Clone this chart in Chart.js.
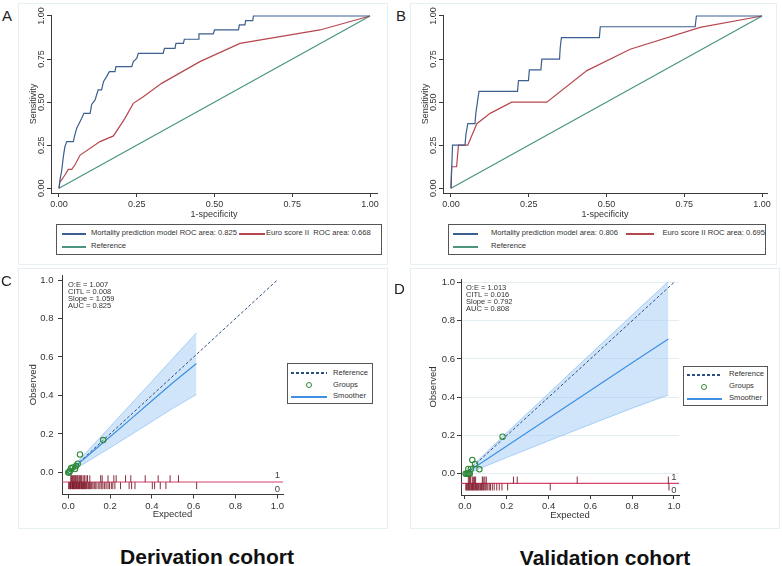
<!DOCTYPE html>
<html>
<head>
<meta charset="utf-8">
<title>ROC curves and calibration plots</title>
<script src="https://cdn.jsdelivr.net/npm/chart.js@4.4.1/dist/chart.umd.min.js"></script>
<style>
  html, body { margin: 0; padding: 0; background: #fff; }
  body { position: relative; width: 782px; height: 566px; overflow: hidden;
         font-family: "Liberation Sans", Arial, Helvetica, sans-serif; color: #222; }
  .frame { position: absolute; border: 1px solid #e6eff2; box-sizing: border-box; }
  .cv { position: absolute; }
  .letter { position: absolute; font-size: 15px; line-height: 15px; }
  .legend { position: absolute; border: 1px solid #555; background: #fff; box-sizing: border-box; }
  .legend .txt { position: absolute; font-size: 7.6px; line-height: 8px; white-space: pre; color: #333; }
  .legend .sw { position: absolute; height: 1.5px; }
  .legend .dot { position: absolute; width: 4px; height: 4px; border: 1.1px solid; border-radius: 50%; }
  .note { position: absolute; font-size: 7.5px; line-height: 7px; white-space: pre; color: #333; }
  .cohort { position: absolute; font-size: 21px; line-height: 21px; font-weight: bold;
            white-space: nowrap; transform: translateX(-50%); color: #111; }
</style>
</head>
<body>
<div class="frame" style="left:18px;top:3px;width:370px;height:262px"></div>
<div class="frame" style="left:410px;top:3px;width:367px;height:262px"></div>
<div class="frame" style="left:18px;top:268px;width:370px;height:261px"></div>
<div class="frame" style="left:410px;top:268px;width:370px;height:261px"></div>

<canvas id="roc-a" class="cv" width="370" height="222" style="left:18px;top:0"></canvas>
<canvas id="roc-b" class="cv" width="370" height="222" style="left:410px;top:0"></canvas>
<canvas id="cal-c" class="cv" width="370" height="262" style="left:18px;top:262px"></canvas>
<canvas id="cal-d" class="cv" width="370" height="262" style="left:410px;top:262px"></canvas>

<div class="legend" id="leg-a" style="left:56px;top:224px;width:326px;height:31px"></div>
<div class="legend" id="leg-b" style="left:448px;top:224px;width:318px;height:31px"></div>
<div class="legend" id="leg-c" style="left:287px;top:363px;width:86px;height:41px"></div>
<div class="legend" id="leg-d" style="left:683px;top:366px;width:85px;height:40px"></div>

<div class="note" id="note-c" style="left:68px;top:281px"></div>
<div class="note" id="note-d" style="left:466px;top:283.5px"></div>

<div class="letter" style="left:2px;top:7.5px">A</div>
<div class="letter" style="left:396px;top:7.5px">B</div>
<div class="letter" style="left:1px;top:273px">C</div>
<div class="letter" style="left:394px;top:281px">D</div>

<div class="cohort" id="title-c" style="left:207px;top:546px"></div>
<div class="cohort" id="title-d" style="left:605px;top:546.5px"></div>

<script>
/* ── ROC data ── */
const ROC_TICKS = [0, 0.25, 0.5, 0.75, 1];
const REF_X = [0, 1];
const REF_Y = [0, 1];

const A_MODEL_X = [0, 0.003, 0.009, 0.014, 0.019, 0.025, 0.046, 0.051, 0.057, 0.065, 0.073, 0.080,
  0.100, 0.105, 0.116, 0.126, 0.137, 0.143, 0.153, 0.162, 0.180, 0.183, 0.234, 0.239, 0.250, 0.255,
  0.335, 0.339, 0.373, 0.376, 0.400, 0.403, 0.448, 0.450, 0.496, 0.500, 0.577, 0.580, 0.598, 0.600,
  0.623, 0.625, 1.0];
const A_MODEL_Y = [0, 0.048, 0.106, 0.184, 0.242, 0.271, 0.271, 0.310, 0.348, 0.377, 0.406, 0.435,
  0.435, 0.487, 0.513, 0.571, 0.571, 0.619, 0.648, 0.677, 0.677, 0.706, 0.706, 0.735, 0.754, 0.783,
  0.783, 0.812, 0.812, 0.841, 0.841, 0.865, 0.865, 0.896, 0.896, 0.919, 0.919, 0.948, 0.948, 0.973,
  0.973, 1.0, 1.0];
const A_EURO_X = [0, 0.003, 0.008, 0.019, 0.030, 0.041, 0.051, 0.068, 0.132, 0.175, 0.212, 0.239,
  0.271, 0.330, 0.453, 0.582, 0.839, 1.0];
const A_EURO_Y = [0, 0.039, 0.048, 0.077, 0.110, 0.110, 0.135, 0.193, 0.271, 0.304, 0.406, 0.493,
  0.532, 0.609, 0.735, 0.841, 0.919, 1.0];

const B_MODEL_X = [0, 0.005, 0.045, 0.048, 0.054, 0.077, 0.080, 0.085, 0.090, 0.214, 0.217, 0.249,
  0.252, 0.289, 0.292, 0.349, 0.351, 0.355, 0.477, 0.480, 0.785, 0.789, 1.0];
const B_MODEL_Y = [0, 0.25, 0.25, 0.3125, 0.375, 0.375, 0.4375, 0.5, 0.5625, 0.5625, 0.625, 0.625,
  0.6875, 0.6875, 0.75, 0.75, 0.8125, 0.875, 0.875, 0.9375, 0.9375, 1.0, 1.0];
const B_EURO_X = [0, 0.002, 0.018, 0.024, 0.054, 0.083, 0.126, 0.195, 0.308, 0.437, 0.576, 0.801, 1.0];
const B_EURO_Y = [0, 0.125, 0.125, 0.25, 0.25, 0.375, 0.435, 0.5, 0.5, 0.683, 0.807, 0.934, 1.0];

const A_LABELS = ['Mortality prediction model ROC area: 0.825', 'Euro score II  ROC area: 0.668', 'Reference'];
const B_LABELS = ['Mortality prediction model area: 0.806', 'Euro score II ROC area: 0.695', 'Reference'];

/* ── Calibration data ── */
const CAL_TICKS = [0, 0.2, 0.4, 0.6, 0.8, 1];
const CAL_LABELS = ['Reference', 'Groups', 'Smoother'];
const RUG_TEXT = ['1', '0'];

const C_SMOOTH_X = [0, 0.1, 0.2, 0.3, 0.4, 0.5, 0.613];
const C_SMOOTH_Y = [0, 0.093, 0.185, 0.278, 0.372, 0.466, 0.566];
const C_UPPER = [0.004, 0.12, 0.237, 0.355, 0.473, 0.592, 0.725];
const C_LOWER = [-0.004, 0.062, 0.128, 0.196, 0.264, 0.333, 0.405];
const C_GROUP_X = [0.0, 0.004, 0.008, 0.013, 0.021, 0.032, 0.037, 0.045, 0.056, 0.167];
const C_GROUP_Y = [0.0, 0.0, 0.007, 0.021, 0.026, 0.017, 0.033, 0.045, 0.093, 0.168];
const C_RUG_EVENT = [0.012, 0.016, 0.021, 0.024, 0.029, 0.034, 0.038, 0.043, 0.047, 0.053, 0.058,
  0.064, 0.071, 0.077, 0.085, 0.092, 0.103, 0.155, 0.162, 0.19, 0.218, 0.229, 0.274, 0.299, 0.368,
  0.43, 0.487, 0.527];
const C_RUG_NONEVENT = [0.002, 0.005, 0.009, 0.011, 0.014, 0.018, 0.02, 0.023, 0.025, 0.028, 0.031,
  0.033, 0.036, 0.039, 0.041, 0.045, 0.048, 0.05, 0.054, 0.056, 0.06, 0.063, 0.066, 0.069, 0.072,
  0.075, 0.078, 0.082, 0.086, 0.089, 0.094, 0.098, 0.101, 0.107, 0.112, 0.118, 0.124, 0.129, 0.137,
  0.146, 0.152, 0.16, 0.166, 0.174, 0.181, 0.19, 0.197, 0.206, 0.213, 0.223, 0.25, 0.291, 0.303,
  0.319, 0.402, 0.413, 0.44, 0.467, 0.614];
const C_STATS = ['O:E = 1.007', 'CITL = 0.008', 'Slope = 1.059', 'AUC = 0.825'];

const D_SMOOTH_X = [0, 0.2, 0.4, 0.6, 0.8, 0.973];
const D_SMOOTH_Y = [0, 0.145, 0.29, 0.435, 0.58, 0.705];
const D_UPPER = [0.004, 0.215, 0.42, 0.625, 0.83, 1.005];
const D_LOWER = [-0.004, 0.085, 0.172, 0.258, 0.343, 0.412];
const D_GROUP_X = [0.003, 0.008, 0.013, 0.018, 0.023, 0.016, 0.028, 0.035, 0.048, 0.069, 0.18];
const D_GROUP_Y = [0.0, 0.0, 0.0, 0.0, 0.0, 0.025, 0.025, 0.072, 0.051, 0.023, 0.194];
const D_RUG_EVENT = [0.016, 0.022, 0.027, 0.035, 0.04, 0.046, 0.051, 0.083, 0.087, 0.095, 0.102,
  0.232, 0.25, 0.537, 0.973];
const D_RUG_NONEVENT = [0.004, 0.008, 0.011, 0.015, 0.018, 0.021, 0.025, 0.029, 0.032, 0.036, 0.04,
  0.043, 0.047, 0.05, 0.055, 0.059, 0.063, 0.066, 0.071, 0.075, 0.079, 0.083, 0.088, 0.092, 0.097,
  0.102, 0.109, 0.116, 0.122, 0.131, 0.14, 0.152, 0.164, 0.177, 0.204, 0.408, 0.976];
const D_STATS = ['O:E = 1.013', 'CITL = 0.016', 'Slope = 0.792', 'AUC = 0.808'];

const COHORTS = ['Derivation cohort', 'Validation cohort'];

/* ── styles ── */
const FONT = '"Liberation Sans", Arial, Helvetica, sans-serif';
Chart.defaults.font.family = FONT;
const AXIS = '#3a3a3a';
const BLUE = '#3b5f8f', RED = '#b7474f', GREEN = '#4a9480';
const REF_DASH = '#2d4f7e', SMOOTH = '#3f8fe2';
const BAND = 'rgba(150,198,245,0.45)', BAND_EDGE = 'rgba(125,182,240,0.8)';
const GROUP = '#2f8a34', RUG = 'rgba(125,22,40,0.9)', RUG_LINE = '#d6436b';
const RUG_BASE = -0.05, RUG_UP = -0.033, RUG_DOWN = -0.069;

const pts = (xs, ys) => xs.map((x, i) => ({x, y: ys[i]}));
const atY = (xs, y) => xs.map(x => ({x, y}));

function scale(o) {
  return {
    type: 'linear', min: o.min, max: o.max,
    afterBuildTicks: s => { s.ticks = o.ticks.map(v => ({value: v})); },
    afterFit: s => { if (o.w) s.width = o.w; if (o.h) s.height = o.h; },
    border: {display: true, color: AXIS, width: 1},
    grid: {drawOnChartArea: !!o.grid, color: o.grid || AXIS, tickColor: AXIS, tickLength: 4},
    ticks: {
      autoSkip: false, font: {size: o.font}, color: '#333', padding: o.tickPad,
      minRotation: o.rotate ? 90 : 0, maxRotation: o.rotate ? 90 : 0,
      crossAlign: o.rotate ? 'center' : 'near',
      callback: v => v.toFixed(o.fmt),
    },
    title: {display: true, text: o.title, font: {size: o.font}, color: '#333', padding: o.titlePad},
  };
}

function baseOptions(padding, x, y) {
  return {
    responsive: false, animation: false, events: [],
    layout: {padding},
    plugins: {legend: {display: false}, tooltip: {enabled: false}},
    scales: {x, y},
  };
}

const curve = (xs, ys, color) => ({
  data: pts(xs, ys), showLine: true, borderColor: color, borderWidth: 1.2, pointRadius: 0, fill: false,
});

/* ── ROC panels ── */
function drawRoc(id, d) {
  new Chart(document.getElementById(id), {
    type: 'scatter',
    data: {datasets: [
      curve(d.modelX, d.modelY, BLUE),
      curve(d.euroX, d.euroY, RED),
      curve(REF_X, REF_Y, GREEN),
    ]},
    options: baseOptions(
      {left: 0, top: 15, right: d.padRight, bottom: 0},
      scale({min: -0.0257, max: d.xMax, ticks: ROC_TICKS, fmt: 2, h: 29, font: 9, tickPad: 2.6,
             title: '1-specificity', titlePad: {top: 0, bottom: 2.1}}),
      scale({min: -0.0273, max: 1.0058, ticks: ROC_TICKS, fmt: 2, w: 33, font: 9, tickPad: -3.5,
             rotate: true, title: 'Sensitivity', titlePad: {top: 10, bottom: 0}})
    ),
  });
}

/* ── rug "1"/"0" labels at x = 1 ── */
const rugLabels = {
  id: 'rugLabels',
  afterDatasetsDraw(chart) {
    const {ctx, scales: {x, y}} = chart;
    ctx.save();
    ctx.font = '9.5px ' + FONT;
    ctx.fillStyle = '#444';
    ctx.textAlign = 'center';
    ctx.textBaseline = 'middle';
    ctx.fillText(RUG_TEXT[0], x.getPixelForValue(1), y.getPixelForValue(-0.018));
    ctx.fillText(RUG_TEXT[1], x.getPixelForValue(1), y.getPixelForValue(-0.088));
    ctx.restore();
  },
};

/* ── calibration panels ── */
function drawCal(id, d) {
  const tick = {pointStyle: 'line', pointRotation: 90, pointRadius: 3.5, pointBorderColor: RUG, pointBorderWidth: 1};
  new Chart(document.getElementById(id), {
    type: 'scatter',
    data: {datasets: [
      {data: atY(d.rugEvent, RUG_UP), ...tick},
      {data: atY(d.rugNon, RUG_DOWN), ...tick},
      {data: atY([d.xMin, d.xMax], RUG_BASE), showLine: true, borderColor: RUG_LINE, borderWidth: 1.2, pointRadius: 0},
      {data: pts(d.groupX, d.groupY), pointStyle: 'circle', pointRadius: 2.7, pointBorderWidth: 1.1,
       pointBorderColor: GROUP, pointBackgroundColor: 'rgba(0,0,0,0)'},
      {data: pts(d.smoothX, d.smoothY), showLine: true, borderColor: SMOOTH, borderWidth: 1.2, pointRadius: 0},
      {data: pts(REF_X, REF_Y), showLine: true, borderColor: REF_DASH, borderWidth: 1, borderDash: [3, 2], pointRadius: 0},
      {type: 'line', data: pts(d.smoothX, d.upper), borderColor: BAND_EDGE, borderWidth: 0.8, pointRadius: 0,
       fill: '+1', backgroundColor: BAND},
      {type: 'line', data: pts(d.smoothX, d.lower), borderColor: BAND_EDGE, borderWidth: 0.8, pointRadius: 0, fill: false},
    ]},
    options: baseOptions(
      d.padding,
      scale({min: d.xMin, max: d.xMax, ticks: CAL_TICKS, fmt: 1, h: d.xH, font: 9.5, tickPad: d.xTickPad,
             title: 'Expected', titlePad: {top: 0, bottom: d.xTitlePad}}),
      scale({min: d.yMin, max: d.yMax, ticks: CAL_TICKS, fmt: 1, w: d.yW, font: 9.5, tickPad: d.yTickPad,
             grid: d.grid, title: 'Observed', titlePad: {top: d.yTitlePad, bottom: 0}})
    ),
    plugins: [rugLabels],
  });
}

/* ── HTML legends ── */
function buildLegend(id, rows) {
  const box = document.getElementById(id);
  rows.forEach(r => {
    if (r.dot != null) {
      const c = document.createElement('div');
      c.className = 'dot';
      Object.assign(c.style, {left: (r.dot - 3) + 'px', top: (r.y - 3) + 'px', borderColor: r.color});
      box.appendChild(c);
    } else {
      const s = document.createElement('div');
      s.className = 'sw';
      Object.assign(s.style, {left: Math.round(r.x1) + 'px', width: Math.round(r.x2 - r.x1) + 'px',
        top: Math.round(r.y - 1) + 'px',
        background: r.dash
          ? `repeating-linear-gradient(to right, ${r.color} 0 3px, transparent 3px 5px)`
          : r.color});
      box.appendChild(s);
    }
    const t = document.createElement('div');
    t.className = 'txt';
    t.textContent = r.label;
    Object.assign(t.style, {left: r.tx + 'px', top: (r.y - 4.5) + 'px'});
    box.appendChild(t);
  });
}

drawRoc('roc-a', {modelX: A_MODEL_X, modelY: A_MODEL_Y, euroX: A_EURO_X, euroY: A_EURO_Y, xMax: 1.0225, padRight: 11});
drawRoc('roc-b', {modelX: B_MODEL_X, modelY: B_MODEL_Y, euroX: B_EURO_X, euroY: B_EURO_Y, xMax: 1.016, padRight: 13});

drawCal('cal-c', {
  smoothX: C_SMOOTH_X, smoothY: C_SMOOTH_Y, upper: C_UPPER, lower: C_LOWER,
  groupX: C_GROUP_X, groupY: C_GROUP_Y, rugEvent: C_RUG_EVENT, rugNon: C_RUG_NONEVENT,
  xMin: -0.030, xMax: 1.027, yMin: -0.115, yMax: 1.026,
  padding: {left: 0, top: 13, right: 105, bottom: 0},
  xH: 29.5, yW: 44, xTickPad: 2.5, xTitlePad: 3.5, yTickPad: 4.5, yTitlePad: 9.6, grid: null,
});
drawCal('cal-d', {
  smoothX: D_SMOOTH_X, smoothY: D_SMOOTH_Y, upper: D_UPPER, lower: D_LOWER,
  groupX: D_GROUP_X, groupY: D_GROUP_Y, rugEvent: D_RUG_EVENT, rugNon: D_RUG_NONEVENT,
  xMin: -0.019, xMax: 1.024, yMin: -0.111, yMax: 1.018,
  padding: {left: 0, top: 17, right: 101, bottom: 0},
  xH: 29, yW: 51, xTickPad: 1.3, xTitlePad: 3.3, yTickPad: 2, yTitlePad: 17.6, grid: '#e4eef2',
});

buildLegend('leg-a', [
  {label: A_LABELS[0], color: BLUE, x1: 5, x2: 29, tx: 34, y: 8.5},
  {label: A_LABELS[1], color: RED, x1: 182, x2: 208, tx: 209, y: 8.5},
  {label: A_LABELS[2], color: GREEN, x1: 5, x2: 29, tx: 34, y: 21.5},
]);
buildLegend('leg-b', [
  {label: B_LABELS[0], color: BLUE, x1: 3.5, x2: 28.5, tx: 42, y: 8.5},
  {label: B_LABELS[1], color: RED, x1: 177, x2: 205, tx: 213.5, y: 8.5},
  {label: B_LABELS[2], color: GREEN, x1: 3.5, x2: 28.5, tx: 42, y: 21.5},
]);
buildLegend('leg-c', [
  {label: CAL_LABELS[0], color: REF_DASH, dash: true, x1: 3, x2: 39, tx: 45, y: 9},
  {label: CAL_LABELS[1], color: GROUP, dot: 21, tx: 45, y: 21},
  {label: CAL_LABELS[2], color: SMOOTH, x1: 3, x2: 39, tx: 45, y: 32.5},
]);
buildLegend('leg-d', [
  {label: CAL_LABELS[0], color: REF_DASH, dash: true, x1: 2.5, x2: 37.5, tx: 45, y: 7.5},
  {label: CAL_LABELS[1], color: GROUP, dot: 20, tx: 45, y: 19.5},
  {label: CAL_LABELS[2], color: SMOOTH, x1: 2.5, x2: 37.5, tx: 45, y: 31.5},
]);

document.getElementById('note-c').textContent = C_STATS.join('\n');
document.getElementById('note-d').textContent = D_STATS.join('\n');
document.getElementById('title-c').textContent = COHORTS[0];
document.getElementById('title-d').textContent = COHORTS[1];
</script>
</body>
</html>
